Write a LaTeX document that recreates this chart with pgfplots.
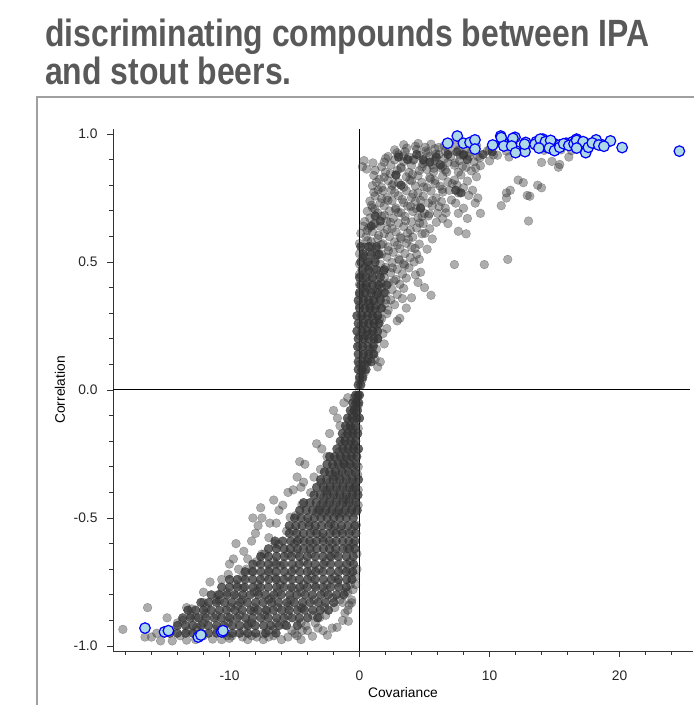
\documentclass[border=0pt]{standalone}
\usepackage{fontspec}
\setmainfont{Liberation Sans}
\newfontfamily\titlefont[FakeStretch=0.84]{Liberation Sans}
\usepackage{pgfplots}
\pgfplotsset{compat=1.18}
\definecolor{ptgray}{HTML}{333333}
\definecolor{ptfill}{HTML}{ADD8E6}
\definecolor{titlegray}{HTML}{595959}
\definecolor{framegray}{HTML}{A0A0A0}
\pgfplotsset{
  sparse/.style={only marks, mark=*, mark size=4.4pt,
    mark options={draw=ptgray, fill=ptgray, opacity=0.4, line width=0.4pt}},
  core/.style={only marks, mark=*, mark size=4.4pt,
    mark options={draw=ptgray, fill=ptgray, opacity=0.76, line width=0.4pt}},
  sel/.style={only marks, mark=*, mark size=5.3pt,
    mark options={draw=blue, fill=ptfill, line width=1.2pt}},
}
\begin{document}
\begin{tikzpicture}
\useasboundingbox (0,0) rectangle (694pt,705pt);
\node[anchor=base west, inner sep=0, text=titlegray, font=\titlefont\fontsize{38}{40}\selectfont\bfseries]
  at (45pt,658pt) {discriminating compounds between IPA};
\node[anchor=base west, inner sep=0, text=titlegray, font=\titlefont\fontsize{38}{40}\selectfont\bfseries]
  at (45pt,620pt) {and stout beers.};
\draw[framegray, line width=1.3pt] (694pt,608pt) -- (37pt,608pt) -- (37pt,0pt);
\begin{axis}[
  at={(113pt,54pt)}, anchor=south west,
  width=580pt, height=522pt, scale only axis,
  xmin=-18.96, xmax=25.65, ymin=-1.0195, ymax=1.0195,
  axis lines=left,
  axis line style={-, line width=0.9pt, black!80},
  tick align=outside,
  major tick length=6pt, minor tick length=3.5pt,
  tick style={black!80, line width=0.8pt},
  xtick={-10,0,10,20}, xticklabels={-10,0,10,20},
  minor xtick={-18,-16,...,24},
  ytick={-1,-0.5,0,0.5,1}, yticklabels={-1.0,-0.5,0.0,0.5,1.0},
  minor ytick={-0.9,-0.8,-0.7,-0.6,-0.4,-0.3,-0.2,-0.1,0.1,0.2,0.3,0.4,0.6,0.7,0.8,0.9},
  ticklabel style={font=\fontsize{13.8}{16}\selectfont, text=black!85},
  xticklabel style={yshift=-10pt},
  yticklabel style={xshift=-6pt},
  xlabel={Covariance}, ylabel={Correlation},
  label style={font=\fontsize{13.8}{16}\selectfont},
  xlabel style={at={(axis description cs:0.5,-0.08)}, anchor=center},
  ylabel style={at={(axis description cs:-0.0914,0.5)}, anchor=center},
]
% dense core of the cloud
\addplot[core] coordinates {
(-0.30,-0.02) (-0.12,-0.02) (0.00,-0.02)
(-0.52,-0.05) (-0.27,-0.05) (-0.06,-0.05)
(-0.71,-0.08) (-0.42,-0.08) (-0.16,-0.08)
(-0.93,-0.11) (-0.58,-0.11) (-0.22,-0.11) (0.0,-0.11)
(-1.08,-0.14) (-0.72,-0.14) (-0.33,-0.14)
(-1.32,-0.17) (-0.91,-0.17) (-0.52,-0.17) (-0.14,-0.17)
(-1.48,-0.20) (-1.12,-0.20) (-0.68,-0.20) (-0.29,-0.20)
(-1.74,-0.23) (-1.27,-0.23) (-0.88,-0.23) (-0.47,-0.23) (-0.08,-0.23)
(-2.3,-0.26) (-1.92,-0.26) (-1.46,-0.26) (-1.03,-0.26) (-0.61,-0.26) (-0.21,-0.26)
(-2.5,-0.29) (-2.08,-0.29) (-1.63,-0.29) (-1.18,-0.29) (-0.72,-0.29) (-0.27,-0.29)
(-2.7,-0.32) (-2.31,-0.32) (-1.84,-0.32) (-1.34,-0.32) (-0.83,-0.32) (-0.33,-0.32)
(-3.0,-0.35) (-2.52,-0.35) (-2.02,-0.35) (-1.51,-0.35) (-1.02,-0.35) (-0.52,-0.35) (-0.08,-0.35)
(-3.3,-0.38) (-2.78,-0.38) (-2.27,-0.38) (-1.78,-0.38) (-1.29,-0.38) (-0.79,-0.38) (-0.31,-0.38)
(-3.5,-0.41) (-3.02,-0.41) (-2.49,-0.41) (-1.98,-0.41) (-1.52,-0.41) (-1.01,-0.41) (-0.53,-0.41) (-0.12,-0.41)
(-4.3,-0.44) (-3.8,-0.44) (-3.33,-0.44) (-2.81,-0.44) (-2.31,-0.44) (-1.79,-0.44) (-1.28,-0.44) (-0.82,-0.44) (-0.29,-0.44)
(-4.6,-0.47) (-4.1,-0.47) (-3.62,-0.47) (-3.08,-0.47) (-2.58,-0.47) (-2.12,-0.47) (-1.61,-0.47) (-1.09,-0.47) (-0.61,-0.47) (-0.18,-0.47)
(-5.0,-0.50) (-4.5,-0.50) (-3.98,-0.50) (-3.47,-0.50) (-2.96,-0.50) (-2.49,-0.50) (-1.98,-0.50) (-1.52,-0.50) (-1.01,-0.50) (-0.48,-0.50)
(-5.4,-0.53) (-4.9,-0.53) (-4.42,-0.53) (-3.88,-0.53) (-3.41,-0.53) (-2.92,-0.53) (-2.38,-0.53) (-1.91,-0.53) (-1.39,-0.53) (-0.88,-0.53) (-0.37,-0.53)
(-5.4,-0.56) (-4.83,-0.56) (-4.31,-0.56) (-3.78,-0.56) (-3.29,-0.56) (-2.81,-0.56) (-2.27,-0.56) (-1.79,-0.56) (-1.31,-0.56) (-0.79,-0.56) (-0.28,-0.56)
(-6.5,-0.59) (-5.9,-0.59) (-5.28,-0.59) (-4.79,-0.59) (-4.27,-0.59) (-3.82,-0.59) (-3.31,-0.59) (-2.79,-0.59) (-2.32,-0.59) (-1.78,-0.59) (-1.29,-0.59) (-0.82,-0.59) (-0.36,-0.59)
(-7.0,-0.62) (-6.4,-0.62) (-5.81,-0.62) (-5.32,-0.62) (-4.78,-0.62) (-4.29,-0.62) (-3.81,-0.62) (-3.28,-0.62) (-2.77,-0.62) (-2.31,-0.62) (-1.82,-0.62) (-1.27,-0.62) (-0.78,-0.62) (-0.35,-0.62)
(-7.6,-0.65) (-7.0,-0.65) (-6.38,-0.65) (-5.79,-0.65) (-5.22,-0.65) (-4.61,-0.65) (-4.02,-0.65) (-3.41,-0.65) (-2.82,-0.65) (-2.19,-0.65) (-1.62,-0.65) (-1.01,-0.65) (-0.48,-0.65)
(-8.2,-0.68) (-7.6,-0.68) (-7.02,-0.68) (-6.41,-0.68) (-5.82,-0.68) (-5.18,-0.68) (-4.62,-0.68) (-3.98,-0.68) (-3.42,-0.68) (-2.78,-0.68) (-2.21,-0.68) (-1.58,-0.68) (-0.98,-0.68) (-0.46,-0.68)
(-8.8,-0.71) (-8.2,-0.71) (-7.58,-0.71) (-6.98,-0.71) (-6.42,-0.71) (-5.79,-0.71) (-5.21,-0.71) (-4.58,-0.71) (-4.01,-0.71) (-3.38,-0.71) (-2.81,-0.71) (-2.22,-0.71) (-1.61,-0.71) (-1.02,-0.71) (-0.52,-0.71)
(-10.0,-0.74) (-9.4,-0.74) (-8.8,-0.74) (-8.21,-0.74) (-7.62,-0.74) (-6.98,-0.74) (-6.41,-0.74) (-5.82,-0.74) (-5.18,-0.74) (-4.61,-0.74) (-3.99,-0.74) (-3.42,-0.74) (-2.79,-0.74) (-2.18,-0.74) (-1.62,-0.74) (-0.98,-0.74) (-0.58,-0.74)
(-10.6,-0.77) (-10.0,-0.77) (-9.4,-0.77) (-8.83,-0.77) (-8.18,-0.77) (-7.61,-0.77) (-7.02,-0.77) (-6.38,-0.77) (-5.81,-0.77) (-5.22,-0.77) (-4.58,-0.77) (-4.02,-0.77) (-3.38,-0.77) (-2.81,-0.77) (-2.21,-0.77) (-1.58,-0.77) (-1.02,-0.77)
(-11.4,-0.80) (-10.8,-0.80) (-10.2,-0.80) (-9.62,-0.80) (-8.98,-0.80) (-8.42,-0.80) (-7.78,-0.80) (-7.22,-0.80) (-6.58,-0.80) (-6.02,-0.80) (-5.38,-0.80) (-4.82,-0.80) (-4.18,-0.80) (-3.62,-0.80) (-2.98,-0.80) (-2.42,-0.80) (-1.78,-0.80) (-1.21,-0.80)
(-12.2,-0.83) (-11.6,-0.83) (-11.0,-0.83) (-10.38,-0.83) (-9.82,-0.83) (-9.18,-0.83) (-8.62,-0.83) (-7.98,-0.83) (-7.42,-0.83) (-6.78,-0.83) (-6.22,-0.83) (-5.58,-0.83) (-5.02,-0.83) (-4.38,-0.83) (-3.82,-0.83) (-3.18,-0.83) (-2.62,-0.83) (-1.98,-0.83)
(-13.2,-0.86) (-12.6,-0.86) (-12.0,-0.86) (-11.42,-0.86) (-10.78,-0.86) (-10.22,-0.86) (-9.58,-0.86) (-9.02,-0.86) (-8.38,-0.86) (-7.82,-0.86) (-7.18,-0.86) (-6.62,-0.86) (-5.98,-0.86) (-5.42,-0.86) (-4.78,-0.86) (-4.22,-0.86) (-3.58,-0.86) (-3.02,-0.86) (-2.38,-0.86)
(-13.6,-0.89) (-13.0,-0.89) (-12.38,-0.89) (-11.82,-0.89) (-11.18,-0.89) (-10.62,-0.89) (-9.98,-0.89) (-9.42,-0.89) (-8.78,-0.89) (-8.22,-0.89) (-7.58,-0.89) (-7.02,-0.89) (-6.38,-0.89) (-5.82,-0.89) (-5.18,-0.89) (-4.62,-0.89) (-3.98,-0.89) (-3.22,-0.89)
(-14.0,-0.92) (-13.38,-0.92) (-12.82,-0.92) (-12.18,-0.92) (-11.62,-0.92) (-10.98,-0.92) (-10.42,-0.92) (-9.78,-0.92) (-9.22,-0.92) (-8.58,-0.92) (-8.02,-0.92) (-7.38,-0.92) (-6.82,-0.92) (-6.18,-0.92) (-5.62,-0.92) (-4.78,-0.92)
(-14.6,-0.95) (-14.02,-0.95) (-13.38,-0.95) (-12.82,-0.95) (-12.18,-0.95) (-11.62,-0.95) (-10.98,-0.95) (-10.42,-0.95) (-9.78,-0.95) (-9.22,-0.95) (-8.58,-0.95) (-7.98,-0.95) (-7.22,-0.95) (-6.42,-0.95)
(-0.1,0.02) (0.1,0.02)
(0.0,0.05) (0.25,0.05)
(-0.1,0.08) (0.2,0.08) (0.5,0.08)
(-0.1,0.11) (0.25,0.11) (0.6,0.11) (0.9,0.11)
(-0.1,0.14) (0.3,0.14) (0.7,0.14) (1.1,0.14)
(-0.15,0.17) (0.25,0.17) (0.65,0.17) (1.05,0.17)
(-0.1,0.20) (0.3,0.20) (0.7,0.20) (1.1,0.20) (1.4,0.20)
(-0.2,0.23) (0.2,0.23) (0.6,0.23) (1.0,0.23) (1.4,0.23)
(-0.1,0.26) (0.3,0.26) (0.7,0.26) (1.1,0.26) (1.5,0.26)
(-0.2,0.29) (0.2,0.29) (0.6,0.29) (1.0,0.29) (1.4,0.29)
(0.0,0.32) (0.4,0.32) (0.8,0.32) (1.2,0.32) (1.7,0.32)
(-0.1,0.35) (0.3,0.35) (0.7,0.35) (1.1,0.35) (1.6,0.35)
(0.0,0.38) (0.4,0.38) (0.9,0.38) (1.4,0.38) (1.9,0.38)
(0.1,0.41) (0.5,0.41) (1.0,0.41) (1.5,0.41) (2.1,0.41)
(0.0,0.44) (0.5,0.44) (1.0,0.44) (1.6,0.44)
(0.2,0.47) (0.7,0.47) (1.3,0.47) (1.9,0.47)
(0.1,0.50) (0.6,0.50) (1.2,0.50)
(0.3,0.53) (0.9,0.53) (1.5,0.53)
(0.1,0.56) (0.7,0.56) (1.3,0.56)
(4.9,0.90) (5.4,0.89) (5.9,0.91) (6.2,0.88) (4.4,0.92) (3.7,0.90) (7.5,0.93) (8.0,0.92)
(8.3,0.90) (7.4,0.78) (7.8,0.77) (4.7,0.71) (1.2,0.68) (1.6,0.66) (0.9,0.64) (3.2,0.80)
(2.8,0.84) (9.5,0.92) (10.2,0.93) (6.8,0.92) (3.0,0.91)
};
% lighter, scattered part of the cloud
\addplot[sparse] coordinates {
(-18.2,-0.935) (-16.3,-0.85) (-16.5,-0.965) (-16.0,-0.965) (-15.3,-0.98) (-14.4,-0.98) (-14.8,-0.89)
(-15.6,-0.95) (-14.9,-0.945) (-13.3,-0.85) (-12.9,-0.855) (-12.0,-0.83) (-12.0,-0.79) (-11.5,-0.75)
(-12.6,-0.89) (-13.6,-0.90) (-13.3,-0.977) (-11.3,-0.973) (-10.0,-0.97) (-9.0,-0.965) (-7.9,-0.965)
(-7.0,-0.965) (-5.5,-0.965) (-4.0,-0.94) (-3.2,-0.93) (-2.1,-0.93) (-1.3,-0.83) (-1.1,-0.79)
(-10.9,-0.80) (-10.6,-0.74) (-10.1,-0.72) (-10.0,-0.68) (-9.7,-0.66) (-9.5,-0.60) (-9.3,-0.70)
(-8.9,-0.63) (-8.6,-0.66) (-8.3,-0.59) (-8.0,-0.56) (-8.2,-0.50) (-7.8,-0.53) (-7.5,-0.50)
(-7.6,-0.46) (-6.9,-0.52) (-6.6,-0.43) (-6.2,-0.47) (-5.9,-0.45) (-6.4,-0.52) (-4.9,-0.49)
(-5.5,-0.40) (-5.1,-0.39) (-4.8,-0.34) (-4.5,-0.38) (-4.3,-0.36) (-4.6,-0.28) (-4.2,-0.29)
(-3.5,-0.34) (-3.0,-0.31) (-3.3,-0.21) (-2.9,-0.23) (-2.5,-0.26) (-1.7,-0.11) (-1.5,-0.14)
(-2.3,-0.17) (-2.0,-0.08) (-1.2,-0.05) (-0.9,-0.03)
(-0.5,-0.78) (-0.6,-0.82) (-0.9,-0.86) (-1.3,-0.90) (-0.3,-0.76) (-0.8,-0.84)
(-5.1,-0.55) (-3.5,-0.55) (-2.0,-0.55) (-0.6,-0.55)
(-6.5,-0.60) (-5.0,-0.60) (-3.6,-0.60) (-2.1,-0.60) (-0.5,-0.60)
(-7.3,-0.64) (-5.5,-0.64) (-3.7,-0.64) (-1.9,-0.64) (-0.2,-0.64)
(-7.9,-0.67) (-6.6,-0.67) (-4.3,-0.67) (-2.6,-0.67) (-0.7,-0.67)
(-8.7,-0.70) (-6.9,-0.70) (-5.0,-0.70) (-3.1,-0.70) (-1.3,-0.70) (-0.2,-0.70)
(-9.0,-0.73) (-7.3,-0.73) (-5.5,-0.73) (-3.7,-0.73) (-1.9,-0.73) (-0.3,-0.73)
(-9.5,-0.76) (-7.8,-0.76) (-6.1,-0.76) (-4.3,-0.76) (-2.5,-0.76) (-0.7,-0.76)
(-10.2,-0.79) (-8.1,-0.79) (-6.3,-0.79) (-4.5,-0.79) (-2.7,-0.79) (-0.9,-0.79)
(-11.0,-0.82) (-9.0,-0.82) (-7.0,-0.82) (-5.3,-0.82) (-3.5,-0.82) (-1.5,-0.82)
(-11.8,-0.85) (-9.9,-0.85) (-8.1,-0.85) (-6.3,-0.85) (-4.5,-0.85) (-2.7,-0.85) (-1.9,-0.85)
(-13.0,-0.88) (-11.0,-0.88) (-9.2,-0.88) (-7.3,-0.88) (-5.5,-0.88) (-3.6,-0.88) (-2.6,-0.88)
(-14.0,-0.91) (-12.0,-0.91) (-10.1,-0.91) (-8.3,-0.91) (-6.4,-0.91) (-4.5,-0.91) (-3.4,-0.91)
(-14.5,-0.94) (-12.5,-0.94) (-10.7,-0.94) (-8.9,-0.94) (-7.0,-0.94) (-5.2,-0.94) (-4.4,-0.94) (-2.8,-0.94)
(-13.8,-0.96) (-12.0,-0.96) (-10.2,-0.96) (-8.3,-0.96) (-6.6,-0.96) (-4.8,-0.96)
(-12.6,-0.975) (-10.6,-0.975) (-8.6,-0.975) (-7.4,-0.975) (-6.0,-0.975) (-4.5,-0.975)
(-9.37,-0.842) (-8.61,-0.913) (-7.84,-0.787) (-7.13,-0.861) (-6.47,-0.732) (-5.76,-0.917) (-5.09,-0.774) (-4.41,-0.853)
(-3.72,-0.706) (-3.06,-0.889) (-2.33,-0.648) (-1.67,-0.752) (-0.93,-0.619) (-8.96,-0.774) (-8.27,-0.708) (-7.41,-0.953)
(-6.82,-0.814) (-6.08,-0.687) (-5.47,-0.844) (-4.86,-0.639) (-4.12,-0.921) (-3.47,-0.763) (-2.84,-0.577) (-2.07,-0.812)
(-1.41,-0.547) (-0.71,-0.713) (-10.13,-0.887) (-11.07,-0.936) (-11.84,-0.874) (-12.53,-0.927) (-13.21,-0.941) (-10.77,-0.823)
(-9.83,-0.961) (-6.23,-0.603) (-5.61,-0.551) (-4.63,-0.582) (-3.93,-0.517) (-3.21,-0.468) (-2.62,-0.393) (-1.88,-0.337)
(-1.22,-0.287) (-0.67,-0.152) (-0.38,-0.214) (-1.03,-0.428) (-1.58,-0.481) (-2.21,-0.522) (-0.43,-0.383) (-0.86,-0.903)
(-1.73,-0.927) (-2.47,-0.958) (-3.62,-0.962) (-4.97,-0.951) (-6.64,-0.937) (-8.12,-0.864) (-9.47,-0.803) (-7.52,-0.641)
(-6.97,-0.577) (-5.33,-0.497) (-4.43,-0.447) (-3.76,-0.401) (-2.96,-0.362) (-0.24,-0.527) (-0.61,-0.831) (-1.12,-0.871)
(-0.4,-0.03) (-0.2,-0.03) (-0.35,-0.06) (-0.1,-0.06) (-0.55,-0.09) (-0.25,-0.09)
(-0.8,-0.12) (-0.4,-0.12) (-0.95,-0.15) (-0.5,-0.15) (-0.1,-0.15)
(-1.1,-0.18) (-0.7,-0.18) (-0.3,-0.18) (-1.3,-0.21) (-0.85,-0.21) (-0.45,-0.21)
(-1.55,-0.24) (-1.1,-0.24) (-0.6,-0.24) (-0.25,-0.24)
(-1.75,-0.27) (-1.25,-0.27) (-0.8,-0.27) (-0.4,-0.27)
(-1.95,-0.30) (-1.4,-0.30) (-0.95,-0.30) (-0.5,-0.30) (-0.1,-0.30)
(-2.1,-0.33) (-1.6,-0.33) (-1.1,-0.33) (-0.6,-0.33) (-0.15,-0.33)
(-2.3,-0.36) (-1.75,-0.36) (-1.25,-0.36) (-0.75,-0.36) (-0.3,-0.36)
(-2.5,-0.39) (-2.0,-0.39) (-1.5,-0.39) (-1.0,-0.39) (-0.55,-0.39) (-0.1,-0.39)
(-2.75,-0.42) (-2.25,-0.42) (-1.75,-0.42) (-1.25,-0.42) (-0.75,-0.42) (-0.3,-0.42)
(-3.0,-0.45) (-2.5,-0.45) (-2.0,-0.45) (-1.5,-0.45) (-1.0,-0.45) (-0.5,-0.45) (-0.1,-0.45)
(-3.3,-0.48) (-2.8,-0.48) (-2.3,-0.48) (-1.8,-0.48) (-1.3,-0.48) (-0.8,-0.48) (-0.35,-0.48)
(3.4,0.958) (4.3,0.952) (5.5,0.960) (6.5,0.953) (7.4,0.957) (9.0,0.955) (10.4,0.959) (11.6,0.951) (13.5,0.953) (14.8,0.950)
(2.7,0.938) (3.5,0.931) (4.4,0.940) (5.1,0.934) (5.8,0.942) (6.6,0.932) (7.6,0.937) (8.6,0.930) (10.0,0.939) (11.3,0.933) (12.8,0.941) (14.2,0.936) (15.5,0.938) (16.3,0.935)
(2.2,0.912) (3.0,0.919) (3.8,0.910) (4.6,0.917) (5.4,0.913) (6.1,0.920) (7.0,0.911) (8.0,0.916) (9.1,0.912) (10.3,0.918) (11.5,0.910) (16.1,0.910) (17.4,0.930)
(0.35,0.896) (1.9,0.890) (2.7,0.899) (3.4,0.892) (4.2,0.900) (5.0,0.893) (5.8,0.897) (6.8,0.889) (7.7,0.896) (8.8,0.891) (10.0,0.895) (14.0,0.889) (14.8,0.893) (15.4,0.881)
(1.7,0.872) (2.4,0.879) (3.2,0.870) (4.0,0.877) (4.8,0.871) (5.6,0.880) (6.4,0.873) (7.3,0.878) (8.2,0.870) (9.3,0.876) (15.3,0.870)
(0.55,0.863) (1.2,0.858) (2.0,0.851) (2.9,0.858) (3.8,0.850) (4.6,0.857) (5.7,0.852) (6.6,0.859) (7.6,0.851) (8.6,0.856)
(1.1,0.838) (1.9,0.831) (2.8,0.839) (3.6,0.832) (4.5,0.837) (5.4,0.830) (6.4,0.836) (7.8,0.840) (9.0,0.833)
(1.3,0.812) (2.2,0.818) (3.0,0.810) (4.0,0.817) (4.8,0.811) (5.8,0.819) (6.8,0.813) (7.3,0.820) (8.3,0.816) (12.2,0.820) (12.6,0.810)
(1.0,0.798) (1.7,0.791) (2.5,0.799) (3.4,0.792) (4.3,0.797) (5.2,0.790) (6.2,0.796) (7.5,0.800) (8.0,0.790) (13.7,0.800) (14.0,0.790)
(1.1,0.772) (1.8,0.779) (2.7,0.771) (3.6,0.778) (4.5,0.770) (5.5,0.777) (6.4,0.773) (6.9,0.780) (7.6,0.770) (8.7,0.780) (11.6,0.780) (11.3,0.770)
(1.2,0.758) (2.1,0.751) (3.0,0.759) (4.0,0.752) (4.9,0.757) (5.9,0.750) (8.4,0.760) (12.9,0.760) (13.1,0.757) (11.3,0.750) (9.1,0.750)
(0.8,0.738) (1.6,0.731) (2.5,0.739) (3.4,0.732) (4.3,0.737) (5.3,0.730) (6.3,0.736) (7.4,0.730) (8.9,0.730)
(1.0,0.712) (1.9,0.719) (2.8,0.711) (3.7,0.718) (4.7,0.713) (5.6,0.720) (6.6,0.710) (8.0,0.710) (10.9,0.720)
(0.6,0.698) (1.4,0.691) (2.3,0.699) (3.2,0.692) (4.1,0.697) (5.0,0.690) (6.0,0.690) (7.6,0.690) (9.3,0.690)
(0.8,0.672) (1.7,0.679) (2.6,0.671) (3.5,0.678) (4.5,0.673) (5.3,0.680) (6.4,0.670) (8.3,0.670)
(0.4,0.658) (1.2,0.651) (2.1,0.659) (3.0,0.652) (4.0,0.657) (4.9,0.650) (6.8,0.650) (13.0,0.660)
(0.3,0.640) (0.7,0.632) (1.6,0.639) (2.5,0.631) (3.4,0.638) (4.4,0.633) (5.4,0.630)
(0.1,0.612) (1.0,0.619) (1.9,0.611) (2.8,0.618) (3.7,0.613) (4.8,0.610) (7.6,0.620) (8.2,0.610)
(0.5,0.598) (1.4,0.591) (2.3,0.599) (3.2,0.592) (4.1,0.597) (5.6,0.590)
(0.0,0.572) (0.9,0.579) (1.8,0.571) (2.7,0.578) (3.6,0.573) (4.6,0.570)
(0.4,0.558) (1.3,0.551) (2.2,0.559) (3.1,0.552) (4.0,0.557) (5.2,0.550)
(0.0,0.532) (0.8,0.539) (1.7,0.531) (2.6,0.538) (3.5,0.533) (4.4,0.530)
(0.3,0.518) (1.2,0.511) (2.1,0.519) (3.0,0.512) (3.9,0.517) (4.6,0.510) (11.4,0.510)
(0.0,0.492) (0.7,0.499) (1.6,0.491) (2.5,0.498) (3.4,0.493) (4.2,0.500) (9.6,0.490) (7.3,0.490)
(0.4,0.478) (1.1,0.471) (2.0,0.479) (2.9,0.472) (3.8,0.477) (4.7,0.460)
(0.0,0.452) (0.8,0.459) (1.5,0.451) (2.4,0.458) (3.3,0.453) (4.3,0.450)
(0.3,0.438) (1.0,0.431) (1.9,0.439) (2.8,0.432) (3.6,0.437) (4.5,0.420)
(0.0,0.412) (0.6,0.419) (1.4,0.411) (2.2,0.418) (3.1,0.413) (5.0,0.400)
(0.3,0.398) (1.0,0.391) (1.7,0.399) (2.5,0.392) (3.4,0.397)
(0.0,0.372) (0.6,0.379) (1.3,0.371) (2.0,0.378) (2.9,0.373) (4.0,0.360) (5.5,0.370)
(0.3,0.358) (1.0,0.351) (1.6,0.359) (2.4,0.352) (3.3,0.357)
(0.0,0.332) (0.7,0.339) (1.3,0.331) (2.0,0.338) (2.7,0.333) (3.6,0.320)
(0.4,0.318) (1.0,0.311) (1.6,0.319) (2.2,0.312)
(0.1,0.292) (0.8,0.299) (1.4,0.291) (2.1,0.298) (2.9,0.270) (3.1,0.280)
(0.4,0.278) (1.1,0.271) (1.7,0.279)
(0.1,0.252) (0.8,0.259) (1.4,0.251) (2.1,0.240)
(0.4,0.238) (1.1,0.231) (1.8,0.220)
(0.0,0.212) (0.8,0.219) (1.4,0.200)
(0.4,0.198) (1.1,0.180) (1.9,0.180)
(0.0,0.172) (0.8,0.160) (1.3,0.160)
(0.3,0.140) (1.0,0.140) (0.6,0.120) (1.2,0.120) (1.6,0.110)
(0.0,0.100) (0.4,0.100) (1.4,0.090) (0.1,0.070) (0.4,0.070) (0.0,0.040) (0.2,0.040)
(0.62,0.583) (1.47,0.604) (2.13,0.627) (2.91,0.566) (3.77,0.589) (1.08,0.647) (1.93,0.682) (2.77,0.705)
(3.54,0.661) (4.36,0.708) (0.93,0.722) (1.71,0.748) (2.44,0.781) (3.29,0.744) (4.12,0.766) (4.94,0.793)
(5.61,0.741) (6.37,0.784) (7.13,0.806) (1.52,0.823) (2.36,0.845) (3.19,0.866) (4.07,0.842) (4.88,0.884)
(5.71,0.866) (6.53,0.903) (7.34,0.887) (8.17,0.941) (2.01,0.905) (2.88,0.927) (3.63,0.945) (4.51,0.963)
(5.25,0.928) (6.08,0.947) (6.94,0.965) (0.72,0.487) (1.37,0.528) (2.23,0.544) (3.07,0.507) (1.83,0.463)
(2.66,0.426) (0.52,0.402) (1.27,0.383) (2.04,0.352) (0.83,0.327) (1.54,0.276) (0.45,0.213) (3.91,0.624)
(4.63,0.652) (5.37,0.688) (6.12,0.716) (5.04,0.612) (4.27,0.553) (3.48,0.487) (5.83,0.806) (6.71,0.851)
(7.92,0.874) (8.43,0.913) (9.26,0.907) (9.84,0.934) (10.61,0.917) (7.07,0.742) (6.66,0.692) (5.91,0.655)
(3.13,0.598) (2.52,0.477) (1.66,0.417) (0.97,0.561) (0.26,0.524) (0.14,0.447) (0.58,0.623) (1.18,0.706)
(1.43,0.781) (2.62,0.806) (3.86,0.821) (4.69,0.741) (5.46,0.824) (6.27,0.868) (3.37,0.914) (4.12,0.898)
(5.06,0.948) (5.88,0.921) (6.86,0.934) (7.73,0.918) (8.94,0.867) (3.94,0.717) (4.81,0.678) (2.38,0.655)
(1.67,0.568) (2.97,0.693) (2.19,0.741) (5.18,0.861) (1.03,0.887) (0.22,0.872)
};
% zero lines
\addplot[black, line width=1pt] coordinates {(-18.96,0) (25.4,0)};
\addplot[black, line width=1pt] coordinates {(0,-1.0195) (0,1.0195)};
% highlighted discriminating compounds
\addplot[sel] coordinates {
(6.78,0.964) (7.52,0.992) (7.99,0.964) (8.5,0.967) (8.88,0.977) (8.88,0.941)
(10.24,0.957) (10.86,0.992) (11.07,0.964) (11.7,0.964) (11.96,0.987) (12.04,0.934)
(12.78,0.967) (12.73,0.931) (13.6,0.97) (14.1,0.98) (14.35,0.95) (14.9,0.964)
(15.4,0.957) (15.9,0.964) (16.4,0.97) (16.7,0.98) (17.0,0.95) (17.9,0.964)
(18.2,0.977) (18.7,0.957) (19.3,0.973) (20.2,0.947) (24.6,0.933)
(10.9,0.986) (11.8,0.983) (11.1,0.953) (11.7,0.953) (12.0,0.927) (12.7,0.96)
(13.5,0.96) (13.9,0.98) (14.3,0.97) (14.7,0.975) (13.8,0.945) (14.6,0.945)
(15.0,0.935) (15.4,0.948) (15.7,0.962) (16.1,0.955) (16.5,0.962) (16.7,0.975)
(17.2,0.97) (16.7,0.945) (17.4,0.927) (17.6,0.948) (17.9,0.965) (18.4,0.957) (18.8,0.952)
(-16.5,-0.93) (-15.0,-0.945) (-14.7,-0.94) (-12.4,-0.965) (-12.2,-0.957)
(-10.6,-0.945) (-10.5,-0.94)
};
\end{axis}
\end{tikzpicture}
\end{document}
